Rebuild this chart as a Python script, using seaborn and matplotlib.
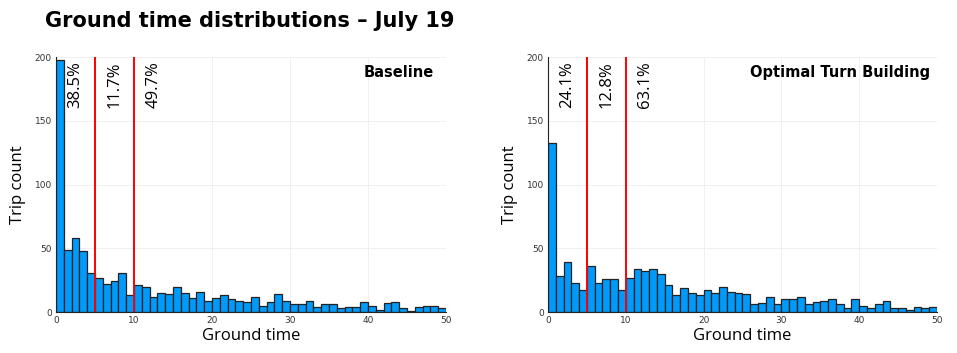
import numpy as np
import pandas as pd
import seaborn as sns
import matplotlib.pyplot as plt

# counts per 1-minute bin of ground time, 0..50
bin_edges = list(range(0, 51))
baseline_counts = [198, 49, 58, 48, 31, 27, 22, 24, 31, 13,
                   21, 20, 12, 15, 14, 20, 15, 11, 16, 9,
                   11, 13, 10, 9, 8, 12, 5, 8, 14, 9,
                   6, 6, 9, 4, 6, 6, 3, 4, 4, 8,
                   5, 2, 7, 8, 3, 1, 4, 5, 5, 3]
optimal_counts = [133, 28, 39, 23, 17, 36, 23, 26, 26, 17,
                  27, 34, 32, 34, 30, 21, 13, 19, 15, 13,
                  17, 15, 20, 16, 15, 14, 6, 7, 12, 6,
                  10, 10, 12, 6, 8, 9, 10, 6, 3, 10,
                  5, 3, 6, 9, 3, 3, 2, 4, 3, 4]
cutoffs = [5, 10]
baseline_pcts = ["38.5%", "11.7%", "49.7%"]
optimal_pcts = ["24.1%", "12.8%", "63.1%"]
pct_x = [2.5, 7.5, 12.5]

sns.set_style("white")
plt.rcParams['font.family'] = ['DejaVu Sans']
plt.rcParams['text.color'] = 'black'
plt.rcParams['axes.labelcolor'] = 'black'

fig = plt.figure(figsize=(9.57, 3.53), dpi=100)
ax1 = fig.add_axes([0.0585, 0.116, 0.4075, 0.722])
ax2 = fig.add_axes([0.5726, 0.116, 0.4065, 0.722])

panels = [(ax1, baseline_counts, baseline_pcts, "Baseline", 48.4),
          (ax2, optimal_counts, optimal_pcts, "Optimal Turn Building", 49.1)]

for ax, counts, pcts, name, name_x in panels:
    df = pd.DataFrame({"t": np.array(bin_edges[:-1]) + 0.5, "n": counts})
    sns.histplot(data=df, x="t", weights="n", bins=bin_edges, ax=ax,
                 color="#009AFA", alpha=1, edgecolor="#222222", linewidth=0.9)
    for c in cutoffs:
        ax.axvline(c, color="red", lw=1.4, zorder=3)
    for x, p in zip(pct_x, pcts):
        ax.text(x, 197, p, rotation=90, ha="center", va="top", fontsize=12,
                family="Open Sans")
    ax.text(name_x, 188, name, ha="right", va="center", fontsize=10.5,
            fontweight="bold")
    ax.set_xlim(0, 50)
    ax.set_ylim(0, 200)
    ax.set_xticks([0, 10, 20, 30, 40, 50])
    ax.set_yticks([0, 50, 100, 150, 200])
    ax.tick_params(labelsize=6.5, labelcolor="#333333", length=2,
                   direction="in", pad=3)
    ax.grid(True, color="#eeeeee", lw=0.6)
    ax.set_axisbelow(True)
    for s in ["top", "right"]:
        ax.spines[s].set_visible(False)
    for s in ["left", "bottom"]:
        ax.spines[s].set_color("#222222")
        ax.spines[s].set_linewidth(0.8)
    ax.set_xlabel("Ground time", fontsize=12, family="Open Sans", labelpad=2)
    ax.set_ylabel("Trip count", fontsize=12, family="Open Sans", labelpad=6)

fig.text(0.047, 0.94, "Ground time distributions \u2013 July 19", fontsize=15,
         fontweight="bold", va="center", ha="left")

fig.savefig("out.png", dpi=100)
